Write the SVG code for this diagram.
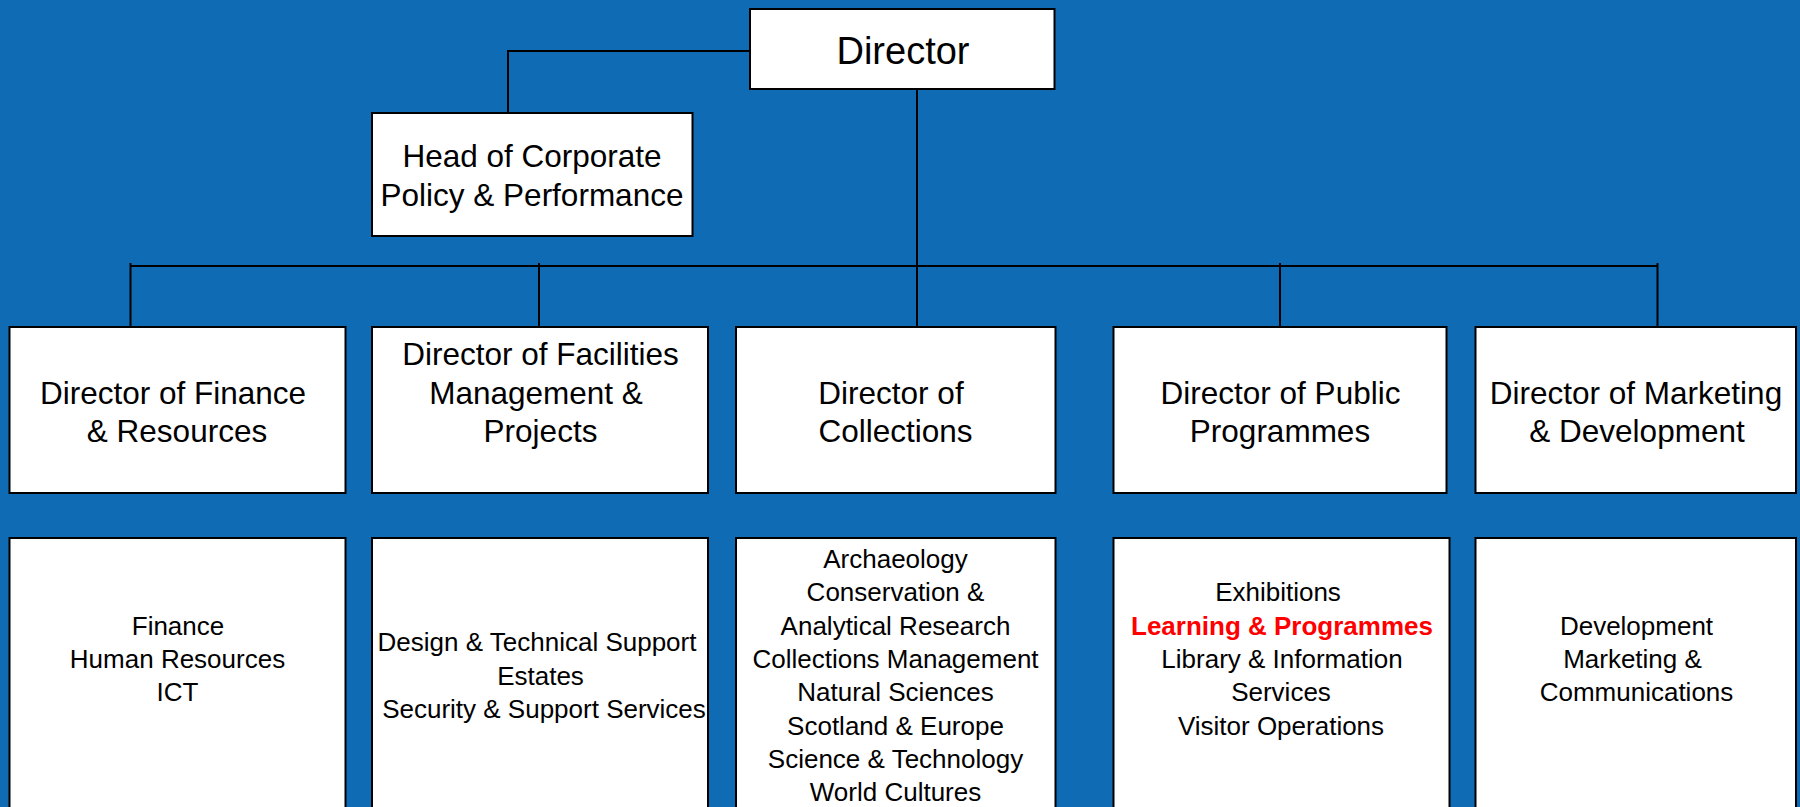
<svg xmlns="http://www.w3.org/2000/svg" width="1800" height="807" viewBox="0 0 1800 807">
<style>
.box{fill:#ffffff;stroke:#000000;stroke-width:2}
.ln{fill:none;stroke:#000000;stroke-width:2}
text{font-family:"Liberation Sans",Arial,sans-serif;fill:#000000;text-anchor:middle}
.t1{font-size:38px}
.t2{font-size:31.5px}
.t3{font-size:26px}
.red{fill:#ff0000;font-weight:bold}
</style>
<rect x="0" y="0" width="1800" height="807" fill="#0E6BB4"/>
<g id="connectors">
<polyline class="ln" points="750,51 508,51 508,113"/>
<line class="ln" x1="917" y1="89" x2="917" y2="327"/>
<line class="ln" x1="130.5" y1="266" x2="1657.5" y2="266"/>
<line class="ln" x1="130.5" y1="263" x2="130.5" y2="327"/>
<line class="ln" x1="539" y1="263" x2="539" y2="327"/>
<line class="ln" x1="1280" y1="263" x2="1280" y2="327"/>
<line class="ln" x1="1657.5" y1="263" x2="1657.5" y2="327"/>
</g>
<g id="director">
<rect class="box" x="750" y="9" width="304.5" height="80"/>
<text class="t1" x="903" y="63.5">Director</text>
</g>
<g id="head-corporate">
<rect class="box" x="372" y="113" width="320.5" height="123"/>
<text class="t2" x="532" y="167">Head of Corporate</text>
<text class="t2" x="532" y="206">Policy &amp; Performance</text>
</g>
<g id="dir-finance">
<rect class="box" x="9.5" y="327" width="336" height="166"/>
<text class="t2" x="173" y="403.5">Director of Finance</text>
<text class="t2" x="177" y="442">&amp; Resources</text>
</g>
<g id="dir-facilities">
<rect class="box" x="372" y="327" width="336" height="166"/>
<text class="t2" x="540.5" y="364.5">Director of Facilities</text>
<text class="t2" x="536" y="403.5">Management &amp;</text>
<text class="t2" x="540.5" y="442">Projects</text>
</g>
<g id="dir-collections">
<rect class="box" x="736" y="327" width="319.5" height="166"/>
<text class="t2" x="891" y="403.5">Director of</text>
<text class="t2" x="895.5" y="442">Collections</text>
</g>
<g id="dir-public">
<rect class="box" x="1113.5" y="327" width="333" height="166"/>
<text class="t2" x="1280.5" y="403.5">Director of Public</text>
<text class="t2" x="1280" y="442">Programmes</text>
</g>
<g id="dir-marketing">
<rect class="box" x="1475.5" y="327" width="320.5" height="166"/>
<text class="t2" x="1636" y="403.5">Director of Marketing</text>
<text class="t2" x="1637" y="442">&amp; Development</text>
</g>
<g id="units-finance">
<rect class="box" x="9.5" y="538" width="336" height="300"/>
<text class="t3" x="178" y="635">Finance</text>
<text class="t3" x="177.5" y="668">Human Resources</text>
<text class="t3" x="177.5" y="701">ICT</text>
</g>
<g id="units-facilities">
<rect class="box" x="372" y="538" width="336" height="300"/>
<text class="t3" x="537" y="651">Design &amp; Technical Support</text>
<text class="t3" x="540.5" y="685">Estates</text>
<text class="t3" x="544" y="718">Security &amp; Support Services</text>
</g>
<g id="units-collections">
<rect class="box" x="736" y="538" width="319.5" height="300"/>
<text class="t3" x="895.5" y="567.5">Archaeology</text>
<text class="t3" x="895.5" y="601">Conservation &amp;</text>
<text class="t3" x="895.5" y="634.5">Analytical Research</text>
<text class="t3" x="895.5" y="668">Collections Management</text>
<text class="t3" x="895.5" y="701">Natural Sciences</text>
<text class="t3" x="895.5" y="735">Scotland &amp; Europe</text>
<text class="t3" x="895.5" y="768">Science &amp; Technology</text>
<text class="t3" x="895.5" y="801">World Cultures</text>
</g>
<g id="units-public">
<rect class="box" x="1113.5" y="538" width="336" height="300"/>
<text class="t3" x="1278" y="601">Exhibitions</text>
<text class="t3 red" x="1282" y="634.5">Learning &amp; Programmes</text>
<text class="t3" x="1282" y="668">Library &amp; Information</text>
<text class="t3" x="1281" y="701">Services</text>
<text class="t3" x="1281" y="735">Visitor Operations</text>
</g>
<g id="units-marketing">
<rect class="box" x="1475.5" y="538" width="320.5" height="300"/>
<text class="t3" x="1636.5" y="635">Development</text>
<text class="t3" x="1632.5" y="668">Marketing &amp;</text>
<text class="t3" x="1636.5" y="701">Communications</text>
</g>
</svg>
